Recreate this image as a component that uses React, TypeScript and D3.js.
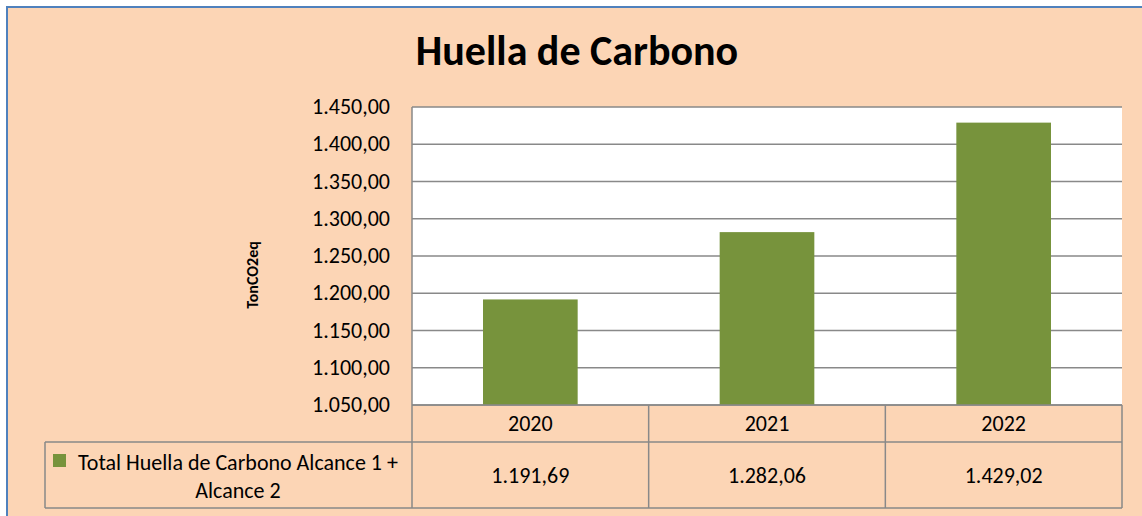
import React from "react";
import * as d3 from "d3";

// chart data
const years = ["2020", "2021", "2022"];
const totals = [1191.69, 1282.06, 1429.02];
const valueLabels = ["1.191,69", "1.282,06", "1.429,02"];
const yTicks = [1050, 1100, 1150, 1200, 1250, 1300, 1350, 1400, 1450];
const yTickLabels = ["1.050,00", "1.100,00", "1.150,00", "1.200,00", "1.250,00", "1.300,00", "1.350,00", "1.400,00", "1.450,00"];
const seriesName = ["Total Huella de Carbono Alcance 1 +", "Alcance 2"];

const W = 1142;
const H = 516;
const plot = { left: 412, right: 1122, top: 107, bottom: 405 };
const rowMid = 442;
const rowBottom = 508;
const legendLeft = 45;
const font = "Carlito, Calibri, Lato, sans-serif";
const grid = "#898989";

const App = () => {
  const x = d3.scaleBand().domain(years).range([plot.left, plot.right]).padding(0);
  const y = d3.scaleLinear().domain([1050, 1450]).range([plot.bottom, plot.top]);
  const bw = x.bandwidth() * 0.4;

  return (
    <div style={{ position: "absolute", left: 0, top: 0 }}>
      <svg width={W} height={H} style={{ display: "block" }}>
        <rect x={0} y={0} width={W} height={H} fill="#fff" />
        <rect x={7} y={7} width={W + 20} height={H} fill="#FCD5B5" stroke="#4F81BD" strokeWidth={2} />

        <text x={577} y={65} textAnchor="middle" fontFamily={font} fontWeight="bold" fontSize={42} fill="#000">
          Huella de Carbono
        </text>

        {/* plot area */}
        <rect x={plot.left} y={plot.top} width={plot.right - plot.left} height={plot.bottom - plot.top} fill="#fff" />
        {yTicks.map((t, i) => (
          <g key={t}>
            <line x1={plot.left} x2={plot.right} y1={y(t)} y2={y(t)} stroke={grid} strokeWidth={1.5} />
            <text x={390} y={y(t) + 7} textAnchor="end" fontFamily={font} fontSize={22} fill="#000">
              {yTickLabels[i]}
            </text>
          </g>
        ))}
        <line x1={plot.left} x2={plot.left} y1={plot.top} y2={plot.bottom} stroke={grid} strokeWidth={1.5} />

        {years.map((yr, i) => (
          <rect
            key={yr}
            x={(x(yr) as number) + x.bandwidth() * 0.3}
            y={y(totals[i])}
            width={bw}
            height={plot.bottom - y(totals[i])}
            fill="#77933C"
          />
        ))}

        <text
          transform={`translate(258,275) rotate(-90)`}
          textAnchor="middle"
          fontFamily={font}
          fontWeight="bold"
          fontSize={16}
          fill="#000"
        >
          TonCO2eq
        </text>

        {/* data table */}
        <g fill="none" stroke={grid} strokeWidth={1.5}>
          <line x1={plot.left} x2={plot.right} y1={plot.bottom} y2={plot.bottom} />
          <line x1={legendLeft} x2={plot.right} y1={rowMid} y2={rowMid} />
          <line x1={legendLeft} x2={plot.right} y1={rowBottom} y2={rowBottom} />
          <line x1={legendLeft} x2={legendLeft} y1={rowMid} y2={rowBottom} />
          {years.map((yr) => (
            <line key={yr} x1={x(yr)} x2={x(yr)} y1={plot.bottom} y2={rowBottom} />
          ))}
          <line x1={plot.right} x2={plot.right} y1={plot.bottom} y2={rowBottom} />
        </g>
        {years.map((yr, i) => (
          <g key={yr}>
            <text x={(x(yr) as number) + x.bandwidth() / 2} y={rowMid - 11} textAnchor="middle" fontFamily={font} fontSize={22} fill="#000">
              {yr}
            </text>
            <text x={(x(yr) as number) + x.bandwidth() / 2} y={483} textAnchor="middle" fontFamily={font} fontSize={22} fill="#000">
              {valueLabels[i]}
            </text>
          </g>
        ))}
        <rect x={53} y={454} width={13} height={13} fill="#77933C" />
        <text x={238} y={470} textAnchor="middle" fontFamily={font} fontSize={22} fill="#000">
          {seriesName[0]}
        </text>
        <text x={238} y={498} textAnchor="middle" fontFamily={font} fontSize={22} fill="#000">
          {seriesName[1]}
        </text>
      </svg>
    </div>
  );
};

export default App;
